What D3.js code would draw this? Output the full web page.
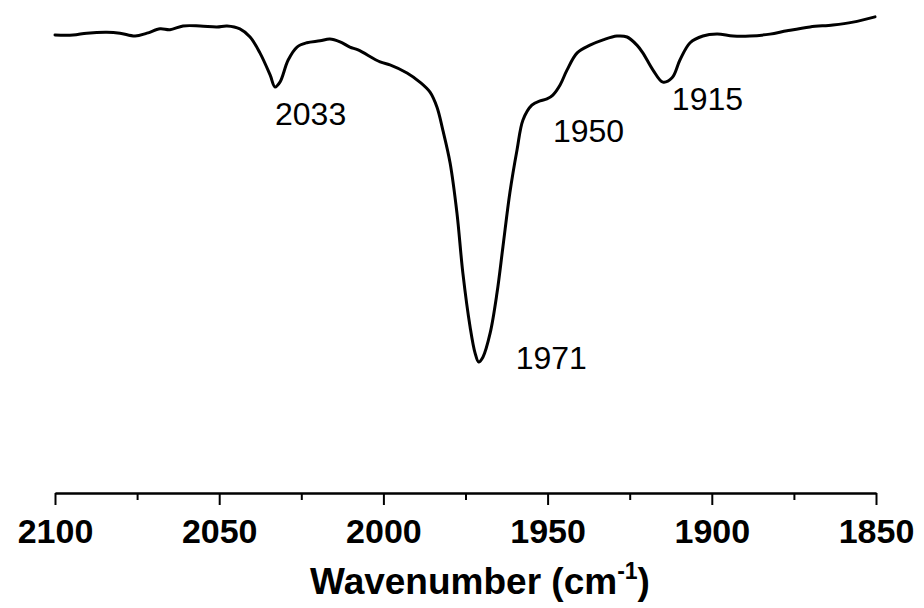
<!DOCTYPE html>
<html><head><meta charset="utf-8">
<script src="https://cdn.jsdelivr.net/npm/d3@7"></script>
<style>body{margin:0;background:#fff}svg{display:block}</style>
</head><body>
<svg id="chart" width="924" height="608"></svg>
<script>
// Wavenumber (cm^-1) and transmittance (arbitrary %)
const wavenumber = [2100.0,2094.5,2090.3,2084.2,2080.2,2075.6,2072.0,2068.0,2065.0,2061.0,2055.8,2050.7,2047.6,2043.7,2040.6,2037.6,2034.5,2033.0,2031.5,2029.0,2026.3,2023.3,2019.3,2016.3,2013.2,2010.2,2007.7,2001.0,1998.0,1992.8,1988.9,1985.8,1983.7,1981.9,1979.7,1977.6,1975.8,1973.6,1972.1,1971.0,1969.7,1967.5,1965.4,1963.6,1961.5,1959.3,1957.5,1954.8,1952.3,1950.2,1948.4,1946.2,1944.1,1941.0,1937.1,1933.1,1928.9,1925.8,1922.8,1921.0,1917.9,1914.9,1912.1,1909.7,1906.6,1902.7,1898.4,1893.5,1888.4,1882.3,1877.1,1870.1,1863.1,1857.0,1850.3];
const transmittance = [95.4,95.4,95.8,96.0,95.8,95.2,95.8,96.7,96.5,97.3,97.3,97.1,97.3,96.7,95.0,91.7,87.1,84.6,85.6,90.2,92.9,93.8,94.2,94.6,94.0,92.9,92.3,89.8,89.2,87.5,85.6,83.5,80.4,75.6,68.8,58.3,45.8,34.6,29.2,27.3,28.3,33.3,41.7,51.3,62.5,71.5,77.7,80.8,81.7,82.1,82.9,85.0,88.1,91.7,93.3,94.4,95.2,95.0,93.3,91.7,88.1,85.6,86.5,90.2,93.8,95.2,95.6,95.2,95.2,95.6,96.3,97.1,97.5,98.1,99.2];
const peakLabels = ["2033","1971","1950","1915"];
const peakWavenumber = [2033.0,1971.0,1950.2,1914.9];
const peakTransmittance = [84.6,27.3,82.1,85.6];
const majorTicks = [2100,2050,2000,1950,1900,1850];
const minorTicks = [2075,2025,1975,1925,1875];
const xTitle = "Wavenumber (cm";
const xTitleSup = "-1";

const svg = d3.select("#chart");
const x = d3.scaleLinear().domain([2100,1850]).range([55,876]);
const y = d3.scaleLinear().domain([0,100]).range([493,13]);

const data = wavenumber.map((w,i)=>({w, t: transmittance[i]}));
const line = d3.line().x(d=>x(d.w)).y(d=>y(d.t)).curve(d3.curveCatmullRom.alpha(0.5));
svg.append("path").datum(data).attr("d", line)
  .attr("fill","none").attr("stroke","#000").attr("stroke-width",3)
  .attr("stroke-linejoin","round").attr("stroke-linecap","round");

// annotation offsets (layout)
const labelOffset = [[0,38],[37,7],[6,43],[9,28]];
svg.selectAll("text.peak").data(peakLabels).join("text").attr("class","peak")
  .attr("x",(d,i)=>x(peakWavenumber[i])+labelOffset[i][0])
  .attr("y",(d,i)=>y(peakTransmittance[i])+labelOffset[i][1])
  .attr("font-family","Liberation Sans, Arial, sans-serif")
  .attr("font-size",32).attr("fill","#000").text(d=>d);

// axis
const axisY = 493;
const gMinor = svg.append("g").attr("transform",`translate(0,${axisY})`)
  .call(d3.axisBottom(x).tickValues(minorTicks).tickSize(7).tickSizeOuter(0).tickFormat(""));
const gMajor = svg.append("g").attr("transform",`translate(0,${axisY})`)
  .call(d3.axisBottom(x).tickValues(majorTicks).tickSize(12).tickSizeOuter(0).tickPadding(14).tickFormat(d3.format("d")));
[gMinor,gMajor].forEach(g=>{
  g.selectAll("path.domain").attr("stroke","#000").attr("stroke-width",2);
  g.selectAll(".tick line").attr("stroke","#000").attr("stroke-width",2);
});
gMajor.selectAll(".tick text").attr("font-family","Liberation Sans, Arial, sans-serif")
  .attr("font-weight","bold").attr("font-size",34).attr("fill","#000").attr("dy","0.71em");

const title = svg.append("text").attr("x",480).attr("y",594)
  .attr("text-anchor","middle").attr("font-family","Liberation Sans, Arial, sans-serif")
  .attr("font-weight","bold").attr("font-size",37).attr("fill","#000");
title.append("tspan").text(xTitle);
title.append("tspan").attr("font-size",23).attr("dy",-15).text(xTitleSup);
title.append("tspan").attr("dy",15).text(")");
</script>
</body></html>
